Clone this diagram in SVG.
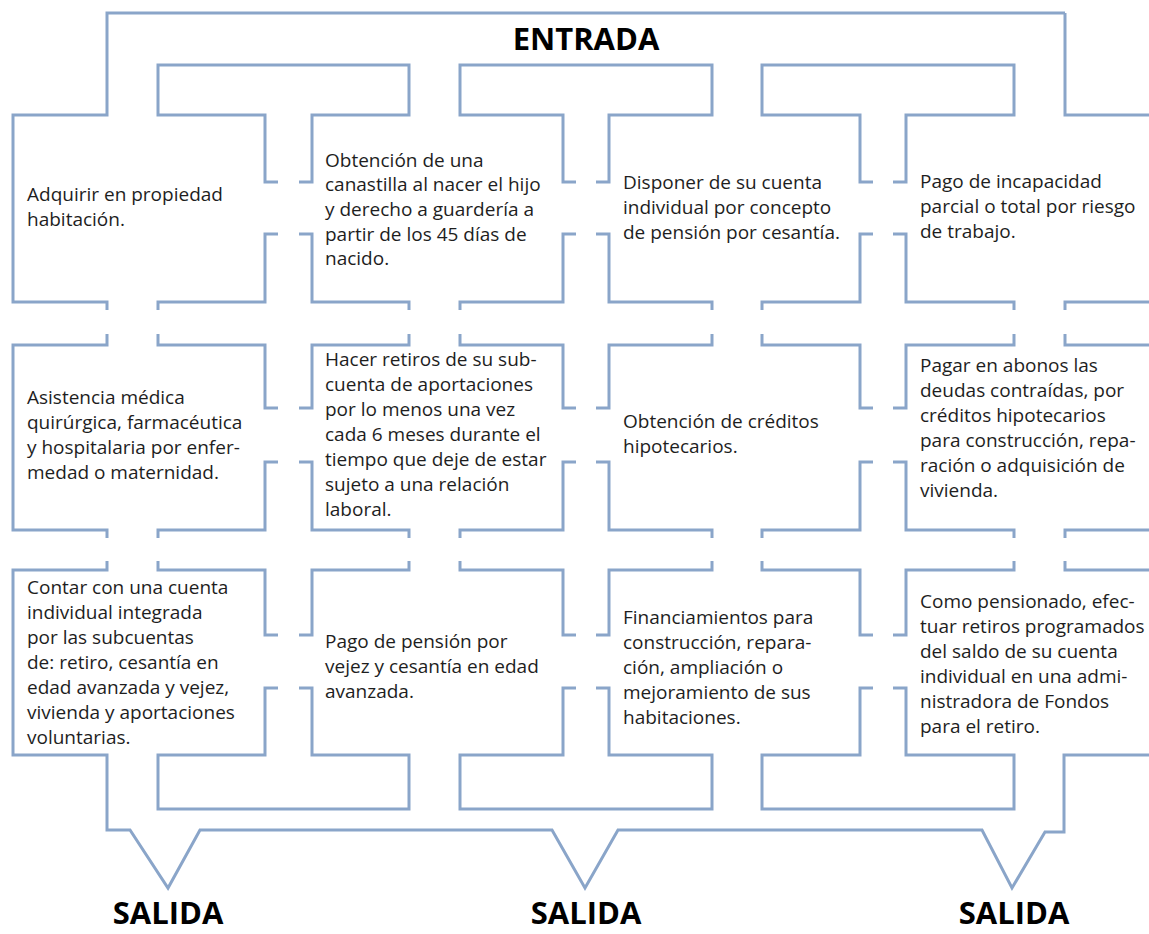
<svg xmlns="http://www.w3.org/2000/svg" width="1149" height="934" viewBox="0 0 1149 934">
<style>
.w{fill:none;stroke:#8aa5c9;stroke-width:3;stroke-linejoin:miter;stroke-linecap:butt}
.t{font-family:"Open Sans","Liberation Sans",sans-serif;font-size:19px;fill:#1e1e1e}
.h{font-family:"Open Sans","Liberation Sans",sans-serif;font-size:31px;font-weight:bold;fill:#000;text-anchor:middle}
</style>
<rect width="1149" height="934" fill="#ffffff"/>
<g id="walls" class="w">
<path d="M1065,13 H107 V115 H13 V302 H107 V310"/>
<path d="M107,334 V345 H13 V530 H107 V538"/>
<path d="M107,561 V570 H13 V755 H107 V830 H130 L168,888 L200,830 H552 L585,888 L618,830 H982 L1012,888 L1045,832 H1064 V755 H1149"/>
<path d="M1065,13 V115 H1149"/>
<path d="M1149,302 H1065 V310"/>
<path d="M1065,334 V345 H1149"/>
<path d="M1149,530 H1065 V538"/>
<path d="M1065,561 V570 H1149"/>
<!-- T1 -->
<path d="M278,182 H265 V115 H158 V65 H409 V115 H312 V182 H299"/>
<path d="M278,234 H265 V302 H158 V310"/>
<path d="M299,234 H312 V302 H409 V310"/>
<path d="M158,334 V345 H265 V408 H278"/>
<path d="M409,334 V345 H312 V408 H299"/>
<path d="M278,462 H265 V530 H158 V538"/>
<path d="M299,462 H312 V530 H409 V538"/>
<path d="M158,561 V570 H265 V635 H278"/>
<path d="M409,561 V570 H312 V635 H299"/>
<path d="M278,688 H265 V755 H158 V809 H409 V755 H312 V688 H299"/>
<!-- T2 -->
<path d="M576,182 H563 V115 H460 V65 H712 V115 H609 V182 H596"/>
<path d="M576,234 H563 V302 H460 V310"/>
<path d="M596,234 H609 V302 H712 V310"/>
<path d="M460,334 V345 H563 V408 H576"/>
<path d="M712,334 V345 H609 V408 H596"/>
<path d="M576,462 H563 V530 H460 V538"/>
<path d="M596,462 H609 V530 H712 V538"/>
<path d="M460,561 V570 H563 V635 H576"/>
<path d="M712,561 V570 H609 V635 H596"/>
<path d="M576,688 H563 V755 H460 V809 H712 V755 H609 V688 H596"/>
<!-- T3 -->
<path d="M873,182 H860 V115 H762 V65 H1014 V115 H906 V182 H893"/>
<path d="M873,234 H860 V302 H762 V310"/>
<path d="M893,234 H906 V302 H1014 V310"/>
<path d="M762,334 V345 H860 V408 H873"/>
<path d="M1014,334 V345 H906 V408 H893"/>
<path d="M873,462 H860 V530 H762 V538"/>
<path d="M893,462 H906 V530 H1014 V538"/>
<path d="M762,561 V570 H860 V635 H873"/>
<path d="M1014,561 V570 H906 V635 H893"/>
<path d="M873,688 H860 V755 H762 V809 H1014 V755 H906 V688 H893"/>
</g>
<g id="entrada"><text class="h" x="586" y="50">ENTRADA</text></g>
<g id="salida1"><text class="h" x="168" y="924">SALIDA</text></g>
<g id="salida2"><text class="h" x="586" y="924">SALIDA</text></g>
<g id="salida3"><text class="h" x="1014" y="924">SALIDA</text></g>
<g id="r1c0"><text class="t"><tspan x="27" y="201">Adquirir en propiedad</tspan><tspan x="27" y="226">habitación.</tspan></text></g>
<g id="r1c1"><text class="t"><tspan x="325" y="167">Obtención de una</tspan><tspan x="325" y="191">canastilla al nacer el hijo</tspan><tspan x="325" y="216">y derecho a guardería a</tspan><tspan x="325" y="241">partir de los 45 días de</tspan><tspan x="325" y="265">nacido.</tspan></text></g>
<g id="r1c2"><text class="t"><tspan x="623" y="189">Disponer de su cuenta</tspan><tspan x="623" y="214">individual por concepto</tspan><tspan x="623" y="239">de pensión por cesantía.</tspan></text></g>
<g id="r1c3"><text class="t"><tspan x="920" y="188">Pago de incapacidad</tspan><tspan x="920" y="213">parcial o total por riesgo</tspan><tspan x="920" y="238">de trabajo.</tspan></text></g>
<g id="r2c0"><text class="t"><tspan x="27" y="404">Asistencia médica</tspan><tspan x="27" y="429">quirúrgica, farmacéutica</tspan><tspan x="27" y="454">y hospitalaria por enfer-</tspan><tspan x="27" y="479">medad o maternidad.</tspan></text></g>
<g id="r2c1"><text class="t"><tspan x="325" y="366">Hacer retiros de su sub-</tspan><tspan x="325" y="391">cuenta de aportaciones</tspan><tspan x="325" y="416">por lo menos una vez</tspan><tspan x="325" y="441">cada 6 meses durante el</tspan><tspan x="325" y="466">tiempo que deje de estar</tspan><tspan x="325" y="491">sujeto a una relación</tspan><tspan x="325" y="516">laboral.</tspan></text></g>
<g id="r2c2"><text class="t"><tspan x="623" y="428">Obtención de créditos</tspan><tspan x="623" y="453">hipotecarios.</tspan></text></g>
<g id="r2c3"><text class="t"><tspan x="920" y="372">Pagar en abonos las</tspan><tspan x="920" y="397">deudas contraídas, por</tspan><tspan x="920" y="422">créditos hipotecarios</tspan><tspan x="920" y="447">para construcción, repa-</tspan><tspan x="920" y="472">ración o adquisición de</tspan><tspan x="920" y="497">vivienda.</tspan></text></g>
<g id="r3c0"><text class="t"><tspan x="27" y="594">Contar con una cuenta</tspan><tspan x="27" y="619">individual integrada</tspan><tspan x="27" y="644">por las subcuentas</tspan><tspan x="27" y="669">de: retiro, cesantía en</tspan><tspan x="27" y="694">edad avanzada y vejez,</tspan><tspan x="27" y="719">vivienda y aportaciones</tspan><tspan x="27" y="744">voluntarias.</tspan></text></g>
<g id="r3c1"><text class="t"><tspan x="325" y="648">Pago de pensión por</tspan><tspan x="325" y="673">vejez y cesantía en edad</tspan><tspan x="325" y="698">avanzada.</tspan></text></g>
<g id="r3c2"><text class="t"><tspan x="623" y="624">Financiamientos para</tspan><tspan x="623" y="649">construcción, repara-</tspan><tspan x="623" y="674">ción, ampliación o</tspan><tspan x="623" y="699">mejoramiento de sus</tspan><tspan x="623" y="724">habitaciones.</tspan></text></g>
<g id="r3c3"><text class="t"><tspan x="920" y="608">Como pensionado, efec-</tspan><tspan x="920" y="633">tuar retiros programados</tspan><tspan x="920" y="658">del saldo de su cuenta</tspan><tspan x="920" y="683">individual en una admi-</tspan><tspan x="920" y="708">nistradora de Fondos</tspan><tspan x="920" y="733">para el retiro.</tspan></text></g>
</svg>
